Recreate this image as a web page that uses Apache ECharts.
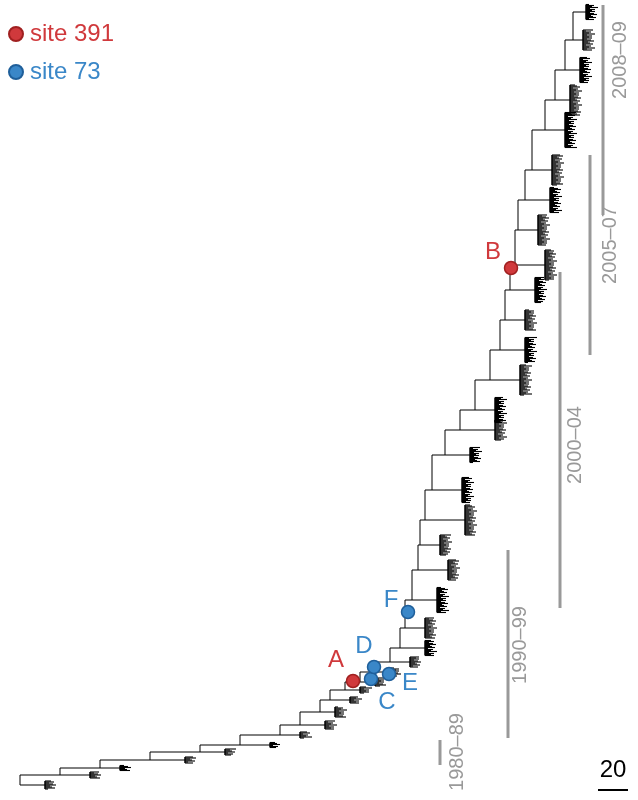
<!DOCTYPE html>
<html><head><meta charset="utf-8">
<script src="https://cdn.jsdelivr.net/npm/echarts@6/dist/echarts.min.js"></script>
<style>html,body{margin:0;padding:0;background:#fff}#c{width:638px;height:800px}</style>
</head><body><div id="c"></div>
<script>
// trunk of the tree (x = divergence, y = order)
const trunkX = [20,60,100,150,200,240,280,300,320,330,345,360,375,390,400,405,412,418,420,425,432,445,460,475,490,500,505,510,515,518,525,532,545,555,565,573,578];
const trunkY = [785,775,768,760,752,745,735,725,712,700,690,682,672,662,648,628,600,570,545,520,490,455,430,410,380,350,320,290,265,230,200,170,130,100,70,40,12];
const cladeLen = [25,30,20,35,25,30,20,25,15,20,15,15,15,20,25,20,25,30,20,40,30,25,35,20,30,25,20,25,30,20,25,20,20,15,15,10,8];
const cladeH = [8,6,5,6,6,5,6,8,10,6,6,8,8,10,15,20,25,20,20,30,25,15,20,25,30,25,20,25,30,30,25,30,35,30,25,20,15];
// leaf length pattern inside each clade comb
const leafLen = [6,9,4,8,11,5,7,10,3,8,6,12,4,9];
// markers
const site391 = [["A",353,681],["B",511,268]];
const site73 = [["C",371,679],["D",374,667],["E",389,674],["F",408,612]];
const site391Lab = [[336,660],[493,252]];
const site73Lab = [[387,702],[364,646],[410,683],[391,600]];
// era bars
const eraLabels = ["1980–89","1990–99","2000–04","2005–07","2008–09"];
const eraX = [440,508,560,590,603];
const eraY1 = [740,550,272,155,5];
const eraY2 = [765,738,608,355,215];
const eraLabX = [457,520,575,610,620];
const eraLabY = [752,645,445,245,60];

const RED='#d0393c', BLUE='#3a87c8';
const segs=[];
for(let i=0;i<trunkX.length-1;i++){
  segs.push([trunkX[i],trunkY[i],trunkX[i],trunkY[i+1]]);
  segs.push([trunkX[i],trunkY[i+1],trunkX[i+1],trunkY[i+1]]);
}
const clades=trunkX.map((x,i)=>[x,trunkY[i],cladeLen[i],cladeH[i]]);
const eras=eraLabels.map((l,i)=>[eraX[i],eraY1[i],eraY2[i],eraLabX[i],eraLabY[i],l]);

const chart=echarts.init(document.getElementById('c'));
function mk(arr,color,name){
  return {type:'scatter',name:name,data:arr.map(d=>[d[1],d[2]]),symbolSize:13,z:10,
    itemStyle:{color:color,borderColor:color==RED?'#a02020':'#1f5f9a',borderWidth:1.5,opacity:1}};
}
const labelSeries=(arr,labs,color)=>({type:'custom',z:11,data:labs.map(p=>[p[0],p[1]]),
  renderItem:(p,api)=>{const c=api.coord([api.value(0),api.value(1)]);
    return {type:'text',x:c[0],y:c[1],style:{text:arr[p.dataIndex][0],fill:color,fontSize:24,fontFamily:'Liberation Sans',align:'center',verticalAlign:'middle'}};}});
chart.setOption({
  animation:false,
  grid:{left:0,right:0,top:0,bottom:0},
  xAxis:{type:'value',min:0,max:638,show:false},
  yAxis:{type:'value',min:0,max:800,inverse:true,show:false},
  legend:{orient:'vertical',left:3,top:17,itemGap:14,itemWidth:14,itemHeight:14,
    data:[{name:'site 391',icon:'circle',textStyle:{color:RED}},{name:'site 73',icon:'circle',textStyle:{color:BLUE}}],
    textStyle:{fontSize:24,fontFamily:'Liberation Sans',padding:[0,0,0,2]}},
  series:[
    {type:'custom',data:segs,renderItem:(p,api)=>{const a=api.coord([api.value(0),api.value(1)]),b=api.coord([api.value(2),api.value(3)]);
      return {type:'line',shape:{x1:a[0],y1:a[1],x2:b[0],y2:b[1]},style:{stroke:'#000',lineWidth:1}};}},
    {type:'custom',data:clades,renderItem:(p,api)=>{const x=api.value(0),y=api.value(1),L=api.value(2),H=api.value(3);
      const a=api.coord([x,y]),b=api.coord([x+L,y]);
      const ch=[{type:'line',shape:{x1:a[0],y1:a[1],x2:b[0],y2:b[1]},style:{stroke:'#000',lineWidth:1}},
        {type:'line',shape:{x1:b[0],y1:b[1]-H/2,x2:b[0],y2:b[1]+H/2},style:{stroke:'#000',lineWidth:1.5}}];
      let k=p.dataIndex;
      for(let yy=-H/2;yy<=H/2;yy+=1){const l=leafLen[(k++)%leafLen.length];
        ch.push({type:'line',shape:{x1:b[0],y1:b[1]+yy,x2:b[0]+l,y2:b[1]+yy},style:{stroke:'#000',lineWidth:1.1}});}
      return {type:'group',children:ch};}},
    {type:'custom',data:eras,renderItem:(p,api)=>{const a=api.coord([api.value(0),api.value(1)]),b=api.coord([api.value(0),api.value(2)]),t=api.coord([api.value(3),api.value(4)]);
      return {type:'group',children:[
        {type:'line',shape:{x1:a[0],y1:a[1],x2:b[0],y2:b[1]},style:{stroke:'#999',lineWidth:3}},
        {type:'text',x:t[0],y:t[1],rotation:Math.PI/2,style:{text:eras[p.dataIndex][5],fill:'#999',fontSize:20,fontFamily:'Liberation Sans',align:'center',verticalAlign:'middle'}}
      ]};}},
    {type:'custom',data:[[598,628,790]],renderItem:(p,api)=>{const a=api.coord([api.value(0),api.value(2)]),b=api.coord([api.value(1),api.value(2)]);
      return {type:'group',children:[
        {type:'line',shape:{x1:a[0],y1:a[1],x2:b[0],y2:b[1]},style:{stroke:'#000',lineWidth:2}},
        {type:'text',x:(a[0]+b[0])/2,y:a[1]-8,style:{text:'20',fill:'#000',fontSize:24,fontFamily:'Liberation Sans',align:'center',verticalAlign:'bottom'}}]};}},
    mk(site391,RED,'site 391'),
    mk(site73,BLUE,'site 73'),
    labelSeries(site391,site391Lab,RED),
    labelSeries(site73,site73Lab,BLUE)
  ]
});
</script></body></html>
